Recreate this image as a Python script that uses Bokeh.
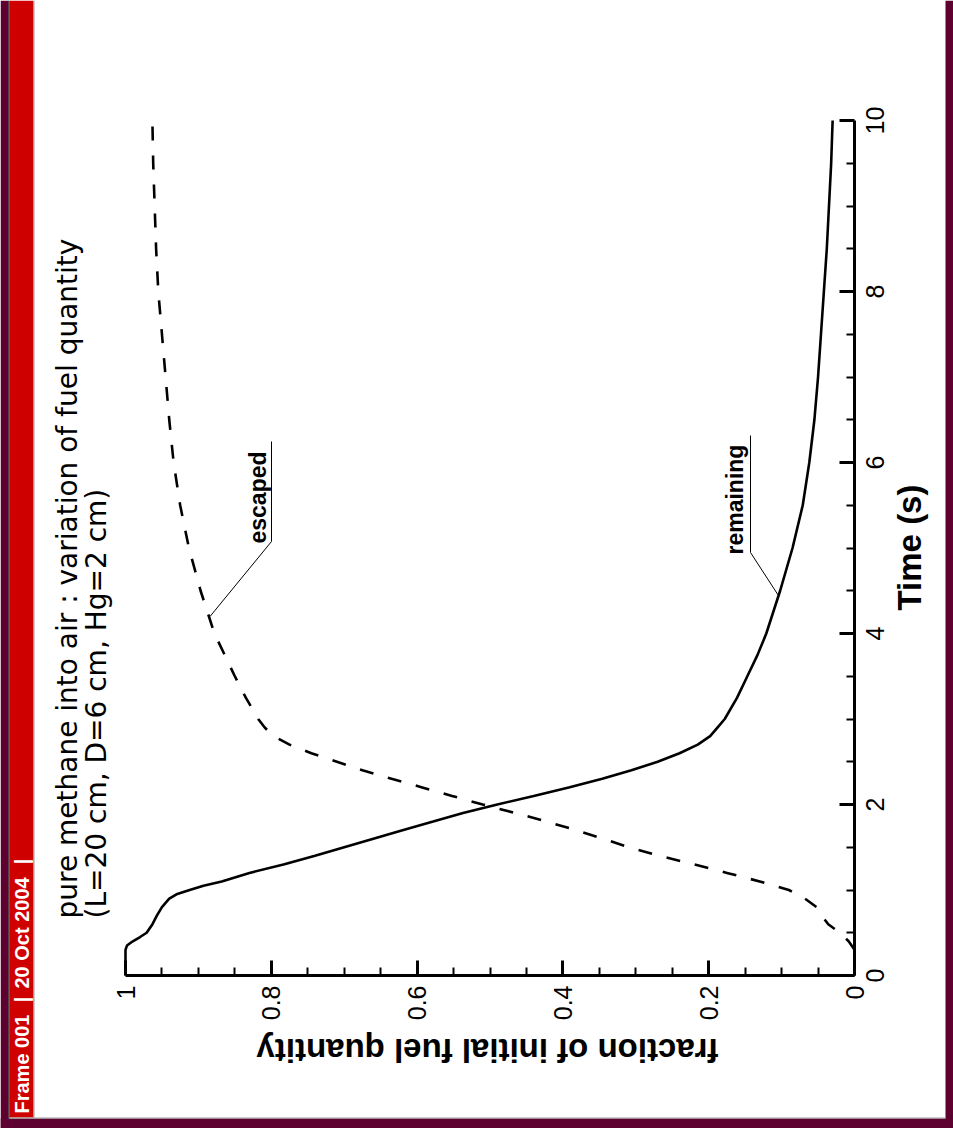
from math import pi
from bokeh.plotting import figure
from bokeh.models import Range1d, LinearAxis, FixedTicker, CustomJSTickFormatter, Label
from bokeh.embed import file_html
from bokeh.resources import INLINE

# ---------------- data ----------------
time_remaining = [0.0, 0.2, 0.3, 0.35, 0.4, 0.45, 0.5, 0.6, 0.7, 0.8,
                  0.9, 0.95, 1.0, 1.05, 1.1, 1.2, 1.3, 1.4, 1.5, 1.6,
                  1.7, 1.8, 1.9, 2.0, 2.1, 2.2, 2.3, 2.4, 2.5, 2.6,
                  2.7, 2.8, 2.9, 3.0, 3.25, 3.5, 3.75, 4.0, 4.5, 5.0,
                  5.5, 6.0, 6.5, 7.0, 7.5, 8.0, 8.5, 9.0, 9.5, 10.0]
frac_remaining = [1.0, 1.0, 1.0, 0.998, 0.99, 0.98, 0.971, 0.963, 0.957, 0.950,
                  0.940, 0.930, 0.912, 0.893, 0.868, 0.830, 0.782, 0.740, 0.700, 0.660,
                  0.620, 0.578, 0.537, 0.490, 0.440, 0.392, 0.346, 0.306, 0.270, 0.240,
                  0.215, 0.198, 0.188, 0.178, 0.161, 0.147, 0.133, 0.121, 0.102, 0.085,
                  0.071, 0.062, 0.055, 0.050, 0.046, 0.042, 0.038, 0.035, 0.032, 0.030]

time_escaped = [0.3, 0.4, 0.5, 0.6, 0.7, 0.8, 0.9, 1.0, 1.1, 1.2,
                1.3, 1.4, 1.5, 1.6, 1.7, 1.8, 1.9, 2.0, 2.1, 2.2,
                2.3, 2.4, 2.5, 2.6, 2.7, 2.8, 2.9, 3.0, 3.25, 3.5,
                3.75, 4.0, 4.5, 5.0, 5.5, 6.0, 6.5, 7.0, 7.5, 8.0,
                8.5, 9.0, 9.5, 9.95]
frac_escaped = [0.0, 0.008, 0.02, 0.036, 0.045, 0.052, 0.068, 0.09, 0.13, 0.175,
                0.22, 0.268, 0.31, 0.345, 0.382, 0.422, 0.465, 0.51, 0.552, 0.593,
                0.635, 0.675, 0.71, 0.745, 0.775, 0.797, 0.809, 0.818, 0.835, 0.85,
                0.864, 0.878, 0.897, 0.913, 0.925, 0.934, 0.940, 0.945, 0.950, 0.955,
                0.958, 0.960, 0.962, 0.963]

fraction_ticks = [0, 0.2, 0.4, 0.6, 0.8, 1.0]
fraction_minor = [0.05, 0.1, 0.15, 0.25, 0.3, 0.35, 0.45, 0.5, 0.55, 0.65, 0.7, 0.75, 0.85, 0.9, 0.95]
time_ticks = [0, 2, 4, 6, 8, 10]
time_minor = [0.5, 1, 1.5, 2.5, 3, 3.5, 4.5, 5, 5.5, 6.5, 7, 7.5, 8.5, 9, 9.5]

title_line1 = "pure methane into air :  variation of fuel quantity"
title_line2 = "(L=20 cm, D=6 cm, Hg=2 cm)"
x_label = "fraction of initial fuel quantity"
y_label = "Time (s)"
label_escaped = "escaped"
label_remaining = "remaining"
frame_texts = ["Frame 001", "|", "20 Oct 2004", "|"]

# ---------------- geometry / style ----------------
W, H = 953, 1128
PX_F0, PX_F1 = 854.0, 125.0     # pixel x of fraction 0 and fraction 1
PY_T0, PY_T10 = 975.0, 120.0    # pixel y of time 0 and time 10

def fx(px):
    return (PX_F0 - px) / (PX_F0 - PX_F1)

def ty(py):
    return (PY_T0 - py) / ((PY_T0 - PY_T10) / 10.0)

MAROON = "#5e0030"
RED = "#cf0000"

p = figure(width=W, height=H, x_range=Range1d(fx(0), fx(W)), y_range=Range1d(ty(H), ty(0)),
           x_axis_location=None, y_axis_location=None, toolbar_location=None,
           title_location=None, output_backend="svg", min_border=0)
p.grid.visible = False
p.outline_line_color = None
p.background_fill_color = "white"
p.border_fill_color = "white"

# ---------------- page decoration (frame of the original screenshot) ----------------
def box(x0, x1, y0, y1, color):
    p.quad(left=fx(x0), right=fx(x1), top=ty(y0), bottom=ty(y1), fill_color=color, line_color=None)

box(0, 8, 0, H, MAROON)
box(945, W, 0, H, MAROON)
box(0, W, 1118, H, MAROON)
box(8, 9, 0, 1118, "black")
box(9, 33, 0, 1117, RED)
box(33, 34, 0, 1117, "#9a9a9a")
box(9, 945, 1117, 1118, "#9a9a9a")

# ---------------- axes ----------------
fmt = CustomJSTickFormatter(code="return String(Math.round(tick*10)/10);")
blank = CustomJSTickFormatter(code="return '';")

def style_axis(ax):
    ax.axis_line_width = 3
    ax.axis_line_color = "black"
    ax.major_tick_in = 15
    ax.major_tick_out = 0
    ax.minor_tick_in = 8
    ax.minor_tick_out = 0
    ax.major_tick_line_width = 3
    ax.minor_tick_line_width = 2
    ax.major_tick_line_color = "black"
    ax.minor_tick_line_color = "black"
    ax.major_label_text_font = "Liberation Sans"
    ax.major_label_text_font_size = "25px"
    ax.major_label_text_color = "black"

xaxis = LinearAxis(fixed_location=0, bounds=(0, 1),
                   ticker=FixedTicker(ticks=fraction_ticks, minor_ticks=fraction_minor), formatter=fmt)
style_axis(xaxis)
xaxis.major_label_orientation = pi / 2
xaxis.major_label_standoff = 10
p.add_layout(xaxis, "below")

yaxis = LinearAxis(fixed_location=0, bounds=(0, 10),
                   ticker=FixedTicker(ticks=time_ticks, minor_ticks=time_minor), formatter=blank)
style_axis(yaxis)
p.add_layout(yaxis, "right")

# tick labels of the time axis, written upward just right of the axis line
ylab = LinearAxis(fixed_location=fx(883), bounds=(0, 10),
                  ticker=FixedTicker(ticks=time_ticks), formatter=fmt)
style_axis(ylab)
ylab.axis_line_color = None
ylab.major_tick_line_color = None
ylab.minor_tick_line_color = None
ylab.major_tick_in = 0
ylab.minor_tick_in = 0
ylab.major_label_orientation = "vertical"
ylab.major_label_standoff = 0
p.add_layout(ylab, "left")

# ---------------- curves ----------------
p.line(frac_remaining, time_remaining, line_width=2.6, line_color="black")
p.line(frac_escaped, time_escaped, line_width=2.6, line_color="black", line_dash="14 15")

# leader lines for the curve labels
p.line([fx(271), fx(271), 0.884], [ty(441), ty(541), 4.2], line_width=1, line_color="black")
p.line([fx(750), fx(750), 0.104], [ty(435), ty(552), 4.44], line_width=1, line_color="black")

def lab(px, py, text, size, font="Liberation Sans", style="normal", angle=pi / 2,
        align="left", baseline="alphabetic", color="black"):
    p.add_layout(Label(x=fx(px), y=ty(py), text=text, angle=angle, text_font=font,
                       text_font_size=size, text_font_style=style, text_color=color,
                       text_align=align, text_baseline=baseline))

lab(257, 543, label_escaped, "23px", style="bold")
lab(734, 554, label_remaining, "23px", style="bold")
lab(67, 918, title_line1, "28px", font="DejaVu Sans")
lab(96, 918, title_line2, "28px", font="DejaVu Sans")
lab(909, 547, y_label, "33px", style="bold", align="center", baseline="middle")
lab(487, 1050, x_label, "33px", style="bold", angle=pi, align="center", baseline="middle")

for txt, py, al in zip(frame_texts, [1113, 999, 988, 861], ["left", "center", "left", "center"]):
    lab(21, py, txt, "20px", style="bold", align=al, baseline="middle", color="white")

open("out.html", "w").write(file_html(p, INLINE))
